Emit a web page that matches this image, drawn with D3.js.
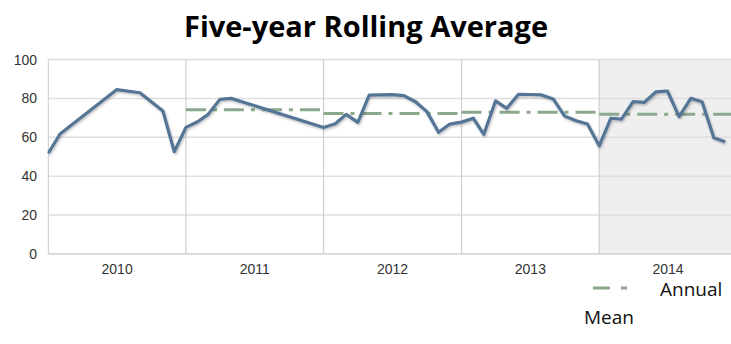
<!DOCTYPE html>
<html>
<head>
<meta charset="utf-8">
<script src="https://cdn.jsdelivr.net/npm/d3@7"></script>
<style>
  html, body { margin: 0; padding: 0; background: #fff; overflow: hidden; }
  svg { display: block; }
</style>
</head>
<body>
<svg id="chart" width="731" height="344"></svg>
<script>
// ---- data ----
const title = "Five-year Rolling Average";
const monthDates = [
  "2010-01","2010-02","2010-07","2010-09","2010-11","2010-12",
  "2011-01","2011-02","2011-03","2011-04","2011-05",
  "2012-01","2012-02","2012-03","2012-04","2012-05","2012-06","2012-07","2012-08","2012-09","2012-10","2012-11","2012-12",
  "2013-01","2013-02","2013-03","2013-04","2013-05","2013-06","2013-07","2013-08","2013-09","2013-10","2013-11","2013-12",
  "2014-01","2014-02","2014-03","2014-04","2014-05","2014-06","2014-07","2014-08","2014-09","2014-10","2014-11","2014-12"
];
const rollingValues = [
  51.8, 61.7, 84.5, 82.9, 73.5, 52.6,
  65.1, 68.0, 71.8, 79.5, 80.0,
  65.0, 67.0, 71.8, 67.7, 81.7, 81.8, 81.9, 81.4, 78.3, 73.2, 62.6, 66.8,
  67.8, 69.8, 61.5, 78.7, 74.9, 82.1, 82.0, 81.8, 79.7, 71.0, 68.5, 66.8,
  55.6, 69.8, 69.3, 78.3, 78.0, 83.4, 83.8, 70.6, 80.0, 78.3, 59.8, 57.7
];
const years = [2010, 2011, 2012, 2013, 2014];
const annualMeans = [null, 74.2, 72.3, 72.9, 71.8];
const yTicks = [0, 20, 40, 60, 80, 100];
const highlightYear = 2014;
const legendLabel = "Annual Mean";

(function () {
// ---- layout ----
const svg = d3.select("#chart");
const W = 731, H = 344;
const padL = 48.3, padT = 59.5, baseY = 254;
const parse = d3.timeParse("%Y-%m");
const x = d3.scaleTime()
  .domain([new Date(2010, 0, 1), new Date(2015, 0, 1)])
  .range([padL, padL + 5 * 137.7]);
const y = d3.scaleLinear().domain([0, 100]).range([baseY, padT]);
const padR = W;

const defs = svg.append("defs");
const clip = defs.append("clipPath").attr("id", "plotclip");
clip.append("rect").attr("x", padL - 1).attr("y", 0).attr("width", padR - padL + 1).attr("height", H);
const f = defs.append("filter").attr("id", "shadow").attr("x", "-5%").attr("y", "-20%").attr("width", "110%").attr("height", "140%");
f.append("feDropShadow").attr("dx", 1).attr("dy", 1.5).attr("stdDeviation", 1).attr("flood-color", "#000").attr("flood-opacity", 0.25);

// title
svg.append("text")
  .attr("x", 366).attr("y", 37)
  .attr("text-anchor", "middle")
  .attr("font-family", "'Open Sans', 'Noto Sans', sans-serif")
  .attr("font-weight", "bold")
  .attr("font-size", 29)
  .attr("fill", "#000")
  .text(title);

const plot = svg.append("g").attr("clip-path", "url(#plotclip)");

// highlighted year band
plot.append("rect")
  .attr("x", x(new Date(highlightYear, 0, 1)))
  .attr("y", y(100))
  .attr("width", x(new Date(highlightYear + 1, 0, 1)) - x(new Date(highlightYear, 0, 1)))
  .attr("height", y(0) - y(100))
  .attr("fill", "#efefef");

// horizontal gridlines
plot.selectAll("line.hgrid").data(yTicks).join("line")
  .attr("class", "hgrid")
  .attr("x1", padL).attr("x2", padR)
  .attr("y1", d => y(d)).attr("y2", d => y(d))
  .attr("stroke", d => d === 0 ? "#cfcfcf" : "#dedede")
  .attr("stroke-width", 1.5);

// vertical year lines
const bounds = years.map(yr => new Date(yr, 0, 1));
plot.selectAll("line.vgrid").data(bounds).join("line")
  .attr("class", "vgrid")
  .attr("x1", d => x(d)).attr("x2", d => x(d))
  .attr("y1", y(100)).attr("y2", y(0))
  .attr("stroke", "#d0d0d0")
  .attr("stroke-width", 1.2);

// annual mean lines
const meanData = years.map((yr, i) => ({ yr, v: annualMeans[i] })).filter(d => d.v != null);
plot.selectAll("line.mean").data(meanData).join("line")
  .attr("class", "mean")
  .attr("x1", d => x(new Date(d.yr, 0, 1)))
  .attr("x2", d => x(new Date(d.yr + 1, 0, 1)))
  .attr("y1", d => y(d.v)).attr("y2", d => y(d.v))
  .attr("stroke", "#8aa98c")
  .attr("stroke-width", 3)
  .attr("stroke-dasharray", "20,7,4,7");

// rolling line
const pts = monthDates.map((m, i) => ({ d: parse(m), v: rollingValues[i] }));
const line = d3.line().x(d => x(d.d)).y(d => y(d.v));
plot.append("path")
  .datum(pts)
  .attr("d", line)
  .attr("fill", "none")
  .attr("stroke", "#557597")
  .attr("stroke-width", 3.2)
  .attr("stroke-linejoin", "round")
  .attr("filter", "url(#shadow)");

// y axis labels
svg.selectAll("text.ytick").data(yTicks).join("text")
  .attr("class", "ytick")
  .attr("x", 37).attr("y", d => y(d) + 5)
  .attr("text-anchor", "end")
  .attr("font-family", "'Liberation Sans', Arial, sans-serif")
  .attr("font-size", 14)
  .attr("fill", "#333")
  .text(d => d);

// x axis labels (centered in year bands)
svg.selectAll("text.xtick").data(years).join("text")
  .attr("class", "xtick")
  .attr("x", yr => (x(new Date(yr, 0, 1)) + x(new Date(yr + 1, 0, 1))) / 2)
  .attr("y", 274)
  .attr("text-anchor", "middle")
  .attr("font-family", "'Liberation Sans', Arial, sans-serif")
  .attr("font-size", 14)
  .attr("fill", "#333")
  .text(d => d);

// legend
const lg = svg.append("g");
lg.append("line")
  .attr("x1", 593).attr("x2", 633)
  .attr("y1", 288).attr("y2", 288)
  .attr("stroke", "#8aa98c")
  .attr("stroke-width", 3)
  .attr("stroke-dasharray", "17,11,6,20");
const words = legendLabel.split(" ");
lg.append("text")
  .attr("x", 660).attr("y", 296)
  .attr("font-family", "'Open Sans', 'Noto Sans', sans-serif")
  .attr("font-size", 19)
  .attr("fill", "#111")
  .text(words[0]);
lg.append("text")
  .attr("x", 584).attr("y", 324)
  .attr("font-family", "'Open Sans', 'Noto Sans', sans-serif")
  .attr("font-size", 19)
  .attr("fill", "#111")
  .text(words[1]);
})();
</script>
</body>
</html>
